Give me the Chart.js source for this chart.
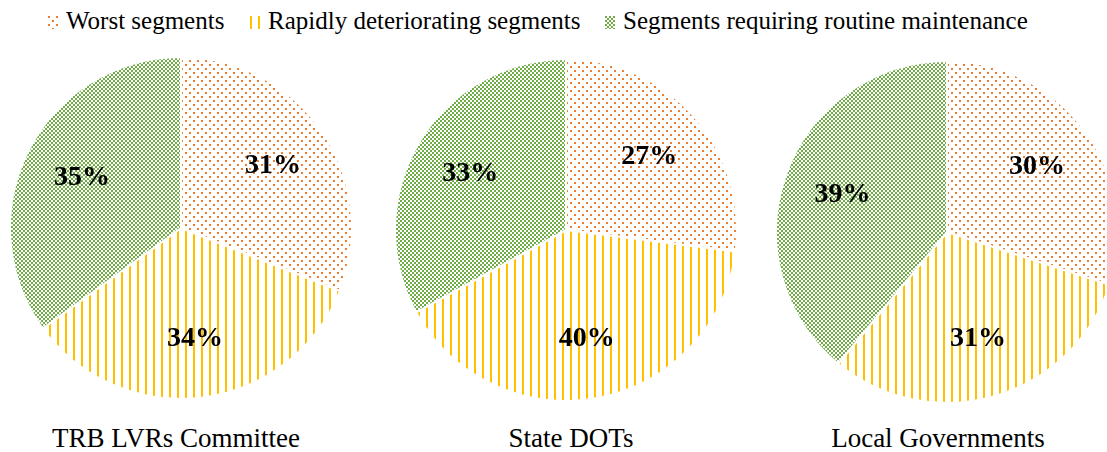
<!DOCTYPE html>
<html>
<head>
<meta charset="utf-8">
<script src="https://cdn.jsdelivr.net/npm/chart.js@4"></script>
<style>
  html, body { margin: 0; padding: 0; background: #fff; overflow: hidden; }
  body { width: 1107px; height: 452px; position: relative; font-family: "Liberation Serif", "Times New Roman", serif; }
  .pie { position: absolute; }
  .legend-item { position: absolute; top: 6px; font-size: 25px; line-height: 30px; color: #000; white-space: nowrap; }
  .legend-item canvas { position: absolute; left: -18px; top: 10px; }
  .title { position: absolute; top: 423px; font-size: 27px; line-height: 30px; color: #000; white-space: nowrap; transform: translateX(-50%); }
</style>
</head>
<body>
<canvas id="pie-trb" class="pie" width="344" height="344"></canvas>
<canvas id="pie-state" class="pie" width="344" height="344"></canvas>
<canvas id="pie-local" class="pie" width="344" height="344"></canvas>

<script>
// categories (slices) and the three groups
const categories = ['Worst segments', 'Rapidly deteriorating segments', 'Segments requiring routine maintenance'];
const groups = ['TRB LVRs Committee', 'State DOTs', 'Local Governments'];

// percentages per group, same order as categories
const trbValues = [31, 34, 35];
const stateValues = [27, 40, 33];
const localValues = [30, 31, 39];

const colors = ['#ED7D31', '#FFC000', '#70AD47'];

// small pattern tiles like Excel's pattern fills
function makePattern(kind, color) {
    const c = document.createElement('canvas');
    const p = c.getContext('2d');
    if (kind === 'dots') {
        c.width = 8; c.height = 8;
        p.fillStyle = '#fff'; p.fillRect(0, 0, 8, 8);
        p.fillStyle = color;
        p.fillRect(0, 0, 2, 2);
        p.fillRect(4, 4, 2, 2);
    } else if (kind === 'stripes') {
        c.width = 8; c.height = 8;
        p.fillStyle = '#fff'; p.fillRect(0, 0, 8, 8);
        p.fillStyle = color;
        p.fillRect(0, 0, 2, 8);
    } else {
        c.width = 4; c.height = 4;
        p.fillStyle = '#fff'; p.fillRect(0, 0, 4, 4);
        p.fillStyle = color;
        p.fillRect(0, 0, 2, 2);
        p.fillRect(2, 2, 2, 2);
    }
    return p.createPattern(c, 'repeat');
}
const kinds = ['dots', 'stripes', 'checker'];
const patterns = kinds.map((k, i) => makePattern(k, colors[i]));

// percent labels inside the slices
const sliceLabels = {
    id: 'sliceLabels',
    afterDatasetsDraw(chart) {
        const ctx = chart.ctx;
        const meta = chart.getDatasetMeta(0);
        const values = chart.data.datasets[0].data;
        ctx.save();
        ctx.font = 'bold 28px "Liberation Serif", "Times New Roman", serif';
        ctx.fillStyle = '#000';
        ctx.textAlign = 'center';
        ctx.textBaseline = 'middle';
        meta.data.forEach(function(arc, i) {
            const a = arc.getProps(['x', 'y', 'startAngle', 'endAngle', 'outerRadius'], true);
            const mid = (a.startAngle + a.endAngle) / 2;
            const r = a.outerRadius * 0.65;
            ctx.fillText(values[i] + '%', a.x + Math.cos(mid) * r, a.y + Math.sin(mid) * r);
        });
        ctx.restore();
    }
};

function makePie(id, values, left, top) {
    const el = document.getElementById(id);
    el.style.left = left + 'px';
    el.style.top = top + 'px';
    return new Chart(el.getContext('2d'), {
        type: 'pie',
        data: {
            labels: categories,
            datasets: [{
                data: values,
                backgroundColor: patterns,
                borderColor: '#fff',
                borderWidth: 2
            }]
        },
        options: {
            responsive: false,
            animation: false,
            events: [],
            layout: { padding: 0 },
            plugins: { legend: { display: false }, tooltip: { enabled: false } }
        },
        plugins: [sliceLabels]
    });
}

makePie('pie-trb', trbValues, 9, 56);
makePie('pie-state', stateValues, 394, 58);
makePie('pie-local', localValues, 775, 60);

// legend across the top
const legendLeft = [66, 268, 623];
categories.forEach(function(name, i) {
    const item = document.createElement('div');
    item.className = 'legend-item';
    item.style.left = legendLeft[i] + 'px';
    const sw = document.createElement('canvas');
    sw.width = 10; sw.height = 13;
    const sctx = sw.getContext('2d');
    sctx.fillStyle = patterns[i];
    sctx.fillRect(0, 0, 10, 13);
    item.appendChild(sw);
    item.appendChild(document.createTextNode(name));
    document.body.appendChild(item);
});

// group titles under each pie
const titleCenter = [176, 571, 938];
groups.forEach(function(name, i) {
    const t = document.createElement('div');
    t.className = 'title';
    t.style.left = titleCenter[i] + 'px';
    t.textContent = name;
    document.body.appendChild(t);
});
</script>
</body>
</html>
